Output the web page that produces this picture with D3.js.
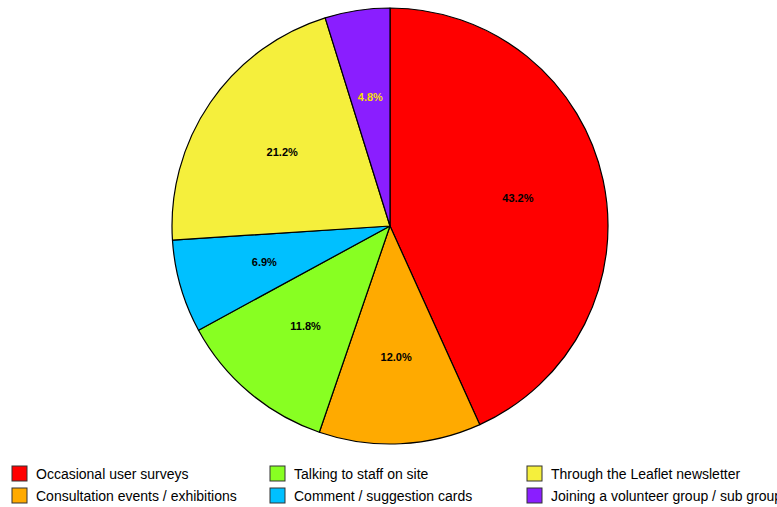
<!DOCTYPE html>
<html><head><meta charset="utf-8">
<script src="https://cdn.jsdelivr.net/npm/d3@7"></script>
<style>html,body{margin:0;padding:0;background:#fff}</style>
</head><body>
<svg id="c" width="777" height="507"></svg>
<script>
const categories = ["Occasional user surveys","Consultation events / exhibitions","Talking to staff on site","Comment / suggestion cards","Through the Leaflet newsletter","Joining a volunteer group / sub group"];
const values = [43.2, 12.0, 11.8, 6.9, 21.2, 4.8];
const colors = ["#ff0000","#ffaa00","#88ff22","#00c0ff","#f5ef3c","#8a1eff"];
const labelColors = ["#000","#000","#000","#000","#000","#f5e000"];

const svg = d3.select("#c");
const cx = 390, cy = 226, r = 218;
const pie = d3.pie().sort(null).value(d => d)(values);
const arc = d3.arc().innerRadius(0).outerRadius(r);
const labelArc = d3.arc().innerRadius(r*0.6).outerRadius(r*0.6);
const g = svg.append("g").attr("transform", `translate(${cx},${cy})`);
g.selectAll("path").data(pie).enter().append("path")
  .attr("d", arc).attr("fill", (d,i) => colors[i])
  .attr("stroke", "#000").attr("stroke-width", 1.2).attr("stroke-linejoin","round");
g.selectAll("text").data(pie).enter().append("text")
  .attr("transform", d => `translate(${labelArc.centroid(d)})`)
  .attr("text-anchor","middle").attr("dy","0.35em")
  .attr("font-family","Liberation Sans, Arial, sans-serif")
  .attr("font-size","11px").attr("font-weight","bold")
  .attr("fill",(d,i)=>labelColors[i])
  .text(d => d.data.toFixed(1) + "%");

// legend: column-major, 3 columns x 2 rows
const colX = [12, 270, 527], rowY = [474, 496];
const lg = svg.append("g");
categories.forEach((c,i) => {
  const col = Math.floor(i/2), row = i%2;
  const x = colX[col], y = rowY[row];
  lg.append("rect").attr("x", x).attr("y", y-8).attr("width", 15).attr("height", 15)
    .attr("fill", colors[i]).attr("stroke","#333").attr("stroke-width",1);
  lg.append("text").attr("x", x+24).attr("y", y).attr("dy","0.35em")
    .attr("font-family","Liberation Sans, Arial, sans-serif").attr("font-size","14px")
    .attr("fill","#000").text(c);
});
</script>
</body></html>
